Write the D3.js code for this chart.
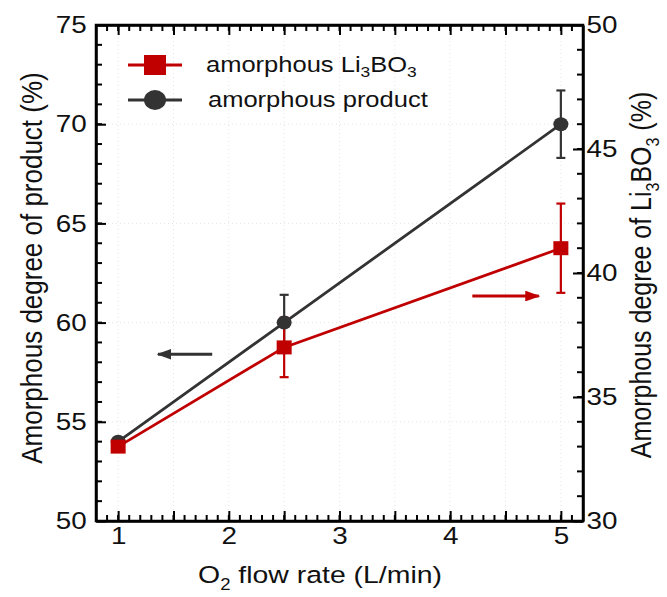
<!DOCTYPE html>
<html>
<head>
<meta charset="utf-8">
<script src="https://cdn.jsdelivr.net/npm/d3@7"></script>
<style>
  body { margin: 0; background: #fff; }
  svg { display: block; font-family: "Liberation Sans", Arial, sans-serif; }
  .axis path { stroke: #000; stroke-width: 2.5; }
  .axis line { stroke: #000; stroke-width: 2; }
  .axis text { font-size: 24px; fill: #111; font-family: "Liberation Sans", Arial, sans-serif; }
</style>
</head>
<body>
<div id="chart"></div>
<script>
// data
const flowRates = [1, 2.5, 5];
const productDeg = [54.0, 60.0, 70.0];     // left axis
const productErr = [0, 1.4, 1.7];
const li3bo3Deg = [33.0, 37.0, 41.0];      // right axis
const li3bo3Err = [0, 1.2, 1.8];
const xTicks = [1, 2, 3, 4, 5];
const leftTicks = [50, 55, 60, 65, 70, 75];
const rightTicks = [30, 35, 40, 45, 50];

const W = 667, H = 597;
const margin = { top: 25, right: 84, bottom: 76, left: 96 };
const width = W - margin.left - margin.right;
const height = H - margin.top - margin.bottom;

const red = "#c00000";
const dark = "#333333";
const stretch = 1.16; // the original text is a bit wide

const svg = d3.select("#chart")
  .append("svg")
  .attr("width", W)
  .attr("height", H);

const g = svg.append("g")
  .attr("transform", `translate(${margin.left},${margin.top})`);

const x = d3.scaleLinear().domain([0.8, 5.2]).range([0, width]);
const yL = d3.scaleLinear().domain([50, 75]).range([height, 0]);
const yR = d3.scaleLinear().domain([30, 50]).range([height, 0]);

// faint dotted grid
const grid = g.append("g").attr("stroke", "#e4e4e4").attr("stroke-width", 1).attr("stroke-dasharray", "1,3");
grid.selectAll(".gx").data(d3.range(1, 5.01, 0.5)).enter().append("line")
  .attr("x1", d => x(d)).attr("x2", d => x(d)).attr("y1", 0).attr("y2", height);
grid.selectAll(".gy").data(leftTicks.slice(1, -1)).enter().append("line")
  .attr("x1", 0).attr("x2", width).attr("y1", d => yL(d)).attr("y2", d => yL(d));

// minor ticks, drawn straight from the scales
const minorX = d3.range(8, 53, 1).map(d => d / 10);
const minorL = d3.range(50, 76, 1);
const minorR = d3.range(30, 51, 1);
const minor = g.append("g").attr("stroke", "#000").attr("stroke-width", 2);
minor.selectAll(".mb").data(minorX).enter().append("line")
  .attr("x1", d => x(d)).attr("x2", d => x(d)).attr("y1", height).attr("y2", height - 6);
minor.selectAll(".mt").data(minorX).enter().append("line")
  .attr("x1", d => x(d)).attr("x2", d => x(d)).attr("y1", 0).attr("y2", 6);
minor.selectAll(".ml").data(minorL).enter().append("line")
  .attr("x1", 0).attr("x2", 6).attr("y1", d => yL(d)).attr("y2", d => yL(d));
minor.selectAll(".mr").data(minorR).enter().append("line")
  .attr("x1", width).attr("x2", width - 6).attr("y1", d => yR(d)).attr("y2", d => yR(d));

// major ticks
g.append("g").attr("class", "axis").attr("transform", `translate(0,${height})`)
  .call(d3.axisBottom(x).tickValues(d3.range(1, 5.01, 0.5)).tickSize(-10).tickSizeOuter(0)
    .tickFormat(d => xTicks.includes(d) ? d : "").tickPadding(6));
g.append("g").attr("class", "axis")
  .call(d3.axisTop(x).tickValues(d3.range(1, 5.01, 0.5)).tickSize(-10).tickSizeOuter(0).tickFormat(""));
g.append("g").attr("class", "axis left")
  .call(d3.axisLeft(yL).tickValues(leftTicks).tickSize(-10).tickSizeOuter(0).tickPadding(8));
g.append("g").attr("class", "axis right").attr("transform", `translate(${width},0)`)
  .call(d3.axisRight(yR).tickValues(rightTicks).tickSize(-10).tickSizeOuter(0).tickPadding(3));

// widen tick labels like the original
g.selectAll(".axis text").attr("transform", `scale(${stretch},1)`);

// frame
g.append("rect").attr("width", width).attr("height", height)
  .attr("fill", "none").attr("stroke", "#000").attr("stroke-width", 2.5);

const product = flowRates.map((f, i) => ({ x: f, y: productDeg[i], e: productErr[i] }));
const li3bo3 = flowRates.map((f, i) => ({ x: f, y: li3bo3Deg[i], e: li3bo3Err[i] }));

function drawSeries(data, yScale, color) {
  g.append("path")
    .datum(data)
    .attr("fill", "none")
    .attr("stroke", color)
    .attr("stroke-width", 2.8)
    .attr("d", d3.line().x(d => x(d.x)).y(d => yScale(d.y)));

  const err = g.append("g").attr("stroke", color).attr("stroke-width", 2.2);
  const withErr = data.filter(d => d.e > 0);
  err.selectAll(".v").data(withErr).enter().append("line")
    .attr("x1", d => x(d.x)).attr("x2", d => x(d.x))
    .attr("y1", d => yScale(d.y - d.e)).attr("y2", d => yScale(d.y + d.e));
  err.selectAll(".t").data(withErr).enter().append("line")
    .attr("x1", d => x(d.x) - 4.5).attr("x2", d => x(d.x) + 4.5)
    .attr("y1", d => yScale(d.y + d.e)).attr("y2", d => yScale(d.y + d.e));
  err.selectAll(".b").data(withErr).enter().append("line")
    .attr("x1", d => x(d.x) - 4.5).attr("x2", d => x(d.x) + 4.5)
    .attr("y1", d => yScale(d.y - d.e)).attr("y2", d => yScale(d.y - d.e));
}

drawSeries(product, yL, dark);
drawSeries(li3bo3, yR, red);

// markers
g.selectAll(".dot").data(product).enter().append("ellipse")
  .attr("cx", d => x(d.x)).attr("cy", d => yL(d.y)).attr("rx", 7.5).attr("ry", 7)
  .attr("fill", dark);
g.selectAll(".sq").data(li3bo3).enter().append("rect")
  .attr("x", d => x(d.x) - 7.5).attr("y", d => yR(d.y) - 7)
  .attr("width", 15).attr("height", 14)
  .attr("fill", red);

// arrows showing which axis each series uses
const defs = svg.append("defs");
[["arrDark", dark], ["arrRed", red]].forEach(([id, c]) => {
  defs.append("marker").attr("id", id)
    .attr("viewBox", "0 0 10 10").attr("refX", 9).attr("refY", 5)
    .attr("markerWidth", 5).attr("markerHeight", 3.6).attr("orient", "auto")
    .attr("preserveAspectRatio", "none")
    .append("path").attr("d", "M0,0 L10,5 L0,10 z").attr("fill", c);
});
// black arrow to the left axis
g.append("line")
  .attr("x1", x(1.85)).attr("x2", x(1.36))
  .attr("y1", yL(58.4)).attr("y2", yL(58.4))
  .attr("stroke", dark).attr("stroke-width", 3).attr("marker-end", "url(#arrDark)");
// red arrow to the right axis
g.append("line")
  .attr("x1", x(4.2)).attr("x2", x(4.8))
  .attr("y1", yR(39.07)).attr("y2", yR(39.07))
  .attr("stroke", red).attr("stroke-width", 3).attr("marker-end", "url(#arrRed)");

// legend
const legend = svg.append("g");
const legendItems = [
  { color: red, shape: "square", y: 65 },
  { color: dark, shape: "circle", y: 100 }
];
legendItems.forEach(it => {
  legend.append("line").attr("x1", 128).attr("x2", 182)
    .attr("y1", it.y).attr("y2", it.y)
    .attr("stroke", it.color).attr("stroke-width", 3.2);
  if (it.shape === "square") {
    legend.append("rect").attr("x", 144).attr("y", it.y - 10)
      .attr("width", 22).attr("height", 20).attr("fill", it.color);
  } else {
    legend.append("ellipse").attr("cx", 155).attr("cy", it.y).attr("rx", 11).attr("ry", 10)
      .attr("fill", it.color);
  }
});
const lt1 = legend.append("text").attr("transform", `translate(206,72) scale(${stretch},1)`)
  .attr("font-size", 22).attr("fill", "#111");
lt1.append("tspan").text("amorphous Li");
lt1.append("tspan").attr("font-size", 15).attr("dy", 5).text("3");
lt1.append("tspan").attr("dy", -5).text("BO");
lt1.append("tspan").attr("font-size", 15).attr("dy", 5).text("3");
legend.append("text").attr("transform", `translate(208,107) scale(${stretch},1)`)
  .attr("font-size", 22).attr("fill", "#111").text("amorphous product");

// axis titles
const xt = svg.append("text")
  .attr("transform", `translate(320,583) scale(${stretch},1)`)
  .attr("text-anchor", "middle").attr("font-size", 24.5).attr("fill", "#111");
xt.append("tspan").text("O");
xt.append("tspan").attr("font-size", 16).attr("dy", 7).text("2");
xt.append("tspan").attr("dy", -7).text(" flow rate (L/min)");

svg.append("text")
  .attr("transform", `translate(42,268) rotate(-90) scale(1,${stretch})`)
  .attr("text-anchor", "middle").attr("font-size", 26).attr("fill", "#111")
  .text("Amorphous degree of product (%)");

const rt = svg.append("text")
  .attr("transform", `translate(651,${margin.top + height / 2 + 2}) rotate(-90) scale(1,${stretch})`)
  .attr("text-anchor", "middle").attr("font-size", 25).attr("fill", "#111");
rt.append("tspan").text("Amorphous degree of Li");
rt.append("tspan").attr("font-size", 16).attr("dy", 7).text("3");
rt.append("tspan").attr("dy", -7).text("BO");
rt.append("tspan").attr("font-size", 16).attr("dy", 7).text("3");
rt.append("tspan").attr("dy", -7).text(" (%)");
</script>
</body>
</html>
